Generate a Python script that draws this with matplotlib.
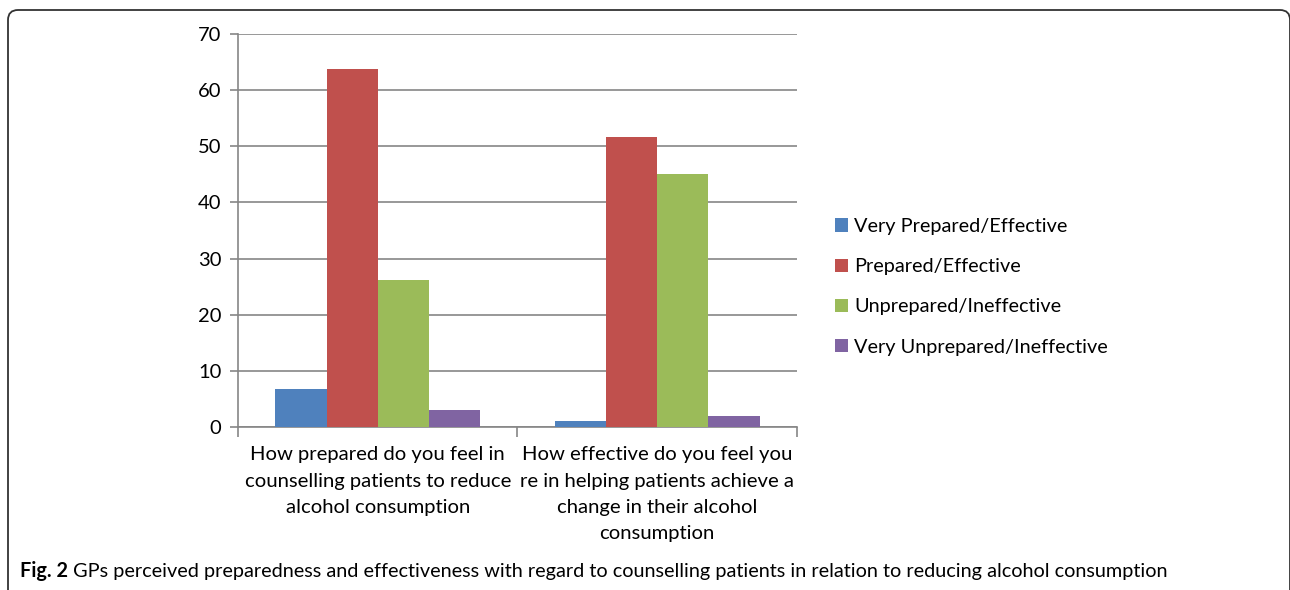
import numpy as np
import matplotlib.pyplot as plt
from matplotlib.patches import FancyBboxPatch

plt.rcParams['font.family'] = ['Lato', 'DejaVu Sans']

categories = ['How prepared do you feel in\ncounselling patients to reduce\nalcohol consumption',
              'How effective do you feel you\nre in helping patients achieve a\nchange in their alcohol\nconsumption']
series = ['Very Prepared/Effective', 'Prepared/Effective',
          'Unprepared/Ineffective', 'Very Unprepared/Ineffective']
very_prepared = [6.8, 1.1]
prepared = [63.7, 51.7]
unprepared = [26.2, 45.0]
very_unprepared = [3.0, 2.0]
values = [very_prepared, prepared, unprepared, very_unprepared]
colors = ['#4F81BD', '#C0504D', '#9BBB59', '#8064A2']

fig = plt.figure(figsize=(12.9, 5.9), dpi=100)
ax = fig.add_axes([0.1845, 0.2763, 0.4333, 0.6661])

x = np.arange(len(categories))
w = 0.183
for i, (vals, c, name) in enumerate(zip(values, colors, series)):
    ax.bar(x + (i - 1.5) * w, vals, w, color=c, label=name, zorder=3)

grey = '#868686'
ax.set_xlim(-0.5, 1.5)
ax.set_ylim(0, 70)
ax.set_yticks(range(0, 71, 10))
ax.yaxis.grid(True, color=grey, lw=1.2, zorder=0)
for s in ['top', 'right']:
    ax.spines[s].set_visible(False)
for s in ['left', 'bottom']:
    ax.spines[s].set_color(grey)
    ax.spines[s].set_linewidth(1.2)
ax.tick_params(axis='y', length=6, color=grey, width=1.2, labelsize=14.5, pad=6)
ax.set_xticks([-0.5, 0.5, 1.5])
ax.set_xticklabels([])
ax.tick_params(axis='x', which='major', length=7, color=grey, width=1.2)
ax.set_xticks(x, minor=True)
ax.set_xticklabels(categories, minor=True, fontsize=14.6, linespacing=1.66)
ax.tick_params(axis='x', which='minor', length=0, pad=14)

fig.legend(loc='center left', bbox_to_anchor=(0.6335, 0.514), frameon=False,
           fontsize=14.3, handlelength=0.65, handleheight=0.65,
           handletextpad=0.3, labelspacing=1.17)

# outer frame with rounded corners
frame = FancyBboxPatch((0.18, -0.5), 12.62, 6.2,
                       boxstyle='round,pad=0.1', transform=fig.dpi_scale_trans,
                       fill=False, ec='#333333', lw=1.3, clip_on=False)
fig.patches.append(frame)

t1 = fig.text(20 / 1290, 1 - 571 / 590, 'Fig. 2', fontsize=14.35, fontweight='bold',
              va='center', ha='left')
ax.annotate(' GPs perceived preparedness and effectiveness with regard to counselling '
            'patients in relation to reducing alcohol consumption',
            xy=(1, 0.5), xycoords=t1, va='center', ha='left', fontsize=14.35,
            annotation_clip=False)

fig.savefig('out.png', dpi=100)
